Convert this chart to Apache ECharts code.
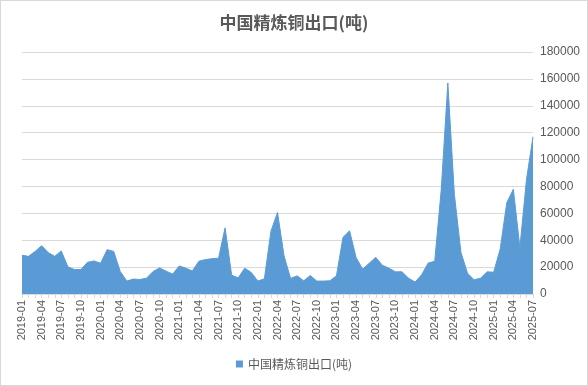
<!DOCTYPE html>
<html>
<head>
<meta charset="utf-8">
<script src="https://cdn.jsdelivr.net/npm/echarts@6/dist/echarts.min.js"></script>
<style>
  html, body { margin: 0; padding: 0; background: #fff; }
  #frame { position: absolute; left: 0; top: 0; width: 586px; height: 384px; border: 1px solid #d9d9d9; }
  #chart { width: 586px; height: 384px; }
</style>
</head>
<body>
<div id="frame"><div id="chart"></div></div>
<script>
const titleText = '中国精炼铜出口(吨)';
const seriesName = '中国精炼铜出口(吨)';

const categories = [];
for (let y = 2019; y <= 2025; y++) {
  for (let m = 1; m <= 12; m++) {
    if (y === 2025 && m > 7) break;
    categories.push(y + '-' + String(m).padStart(2, '0'));
  }
}

const exportValues = [
  28800, 28000, 31700, 35900, 30800, 28000, 32000, 20200, 18200, 18200, 23600, 24600,
  22900, 33000, 31700, 16700, 9600, 11100, 10800, 11800, 16700, 19400, 17000, 14800,
  20900, 19200, 17200, 24400, 25600, 26300, 26600, 49200, 14000, 12000, 19200, 16000,
  9600, 11300, 46700, 60700, 28300, 11600, 13500, 9800, 13800, 9600, 9600, 9800,
  13500, 42100, 47000, 27100, 18500, 22900, 27300, 21400, 19200, 16500, 16500, 11800,
  8900, 14300, 23000, 24400, 78000, 157000, 74000, 31000, 15500, 10600, 11800, 16500,
  16200, 33700, 67900, 77900, 34400, 85000, 117000
];

const yMin = 0, yMax = 180000, yStep = 20000;

const chart = echarts.init(document.getElementById('chart'));
chart.setOption({
  animation: false,
  title: {
    text: titleText,
    left: 'center',
    top: 8,
    textStyle: { fontFamily: 'Noto Sans CJK SC', fontSize: 17, fontWeight: 'bold', color: '#595959' }
  },
  legend: {
    bottom: 10,
    left: 'center',
    icon: 'rect',
    itemWidth: 7,
    itemHeight: 7,
    itemGap: 4,
    textStyle: { fontFamily: 'Noto Sans CJK SC', fontSize: 12, color: '#595959' },
    data: [seriesName]
  },
  grid: { left: 21, right: 54, top: 51, bottom: 91 },
  xAxis: {
    type: 'category',
    data: categories,
    boundaryGap: false,
    axisLine: { lineStyle: { color: '#d9d9d9' } },
    axisTick: { show: true, interval: 0, length: 4, lineStyle: { color: '#d9d9d9' } },
    axisLabel: {
      interval: 2,
      rotate: 90,
      margin: 6,
      fontFamily: 'Liberation Sans',
      fontSize: 11,
      color: '#595959'
    },
    splitLine: { show: false }
  },
  yAxis: {
    type: 'value',
    position: 'right',
    min: yMin,
    max: yMax,
    interval: yStep,
    axisLine: { show: false },
    axisTick: { show: false },
    axisLabel: {
      margin: 7,
      fontFamily: 'Liberation Sans',
      fontSize: 12,
      color: '#595959',
      formatter: function (v) { return String(v); }
    },
    splitLine: { lineStyle: { color: '#d9d9d9' } }
  },
  series: [{
    name: seriesName,
    type: 'line',
    data: exportValues,
    showSymbol: false,
    symbol: 'none',
    lineStyle: { width: 1, color: '#5b9bd5' },
    itemStyle: { color: '#5b9bd5' },
    areaStyle: { color: '#5b9bd5', opacity: 1 }
  }]
});
</script>
</body>
</html>
